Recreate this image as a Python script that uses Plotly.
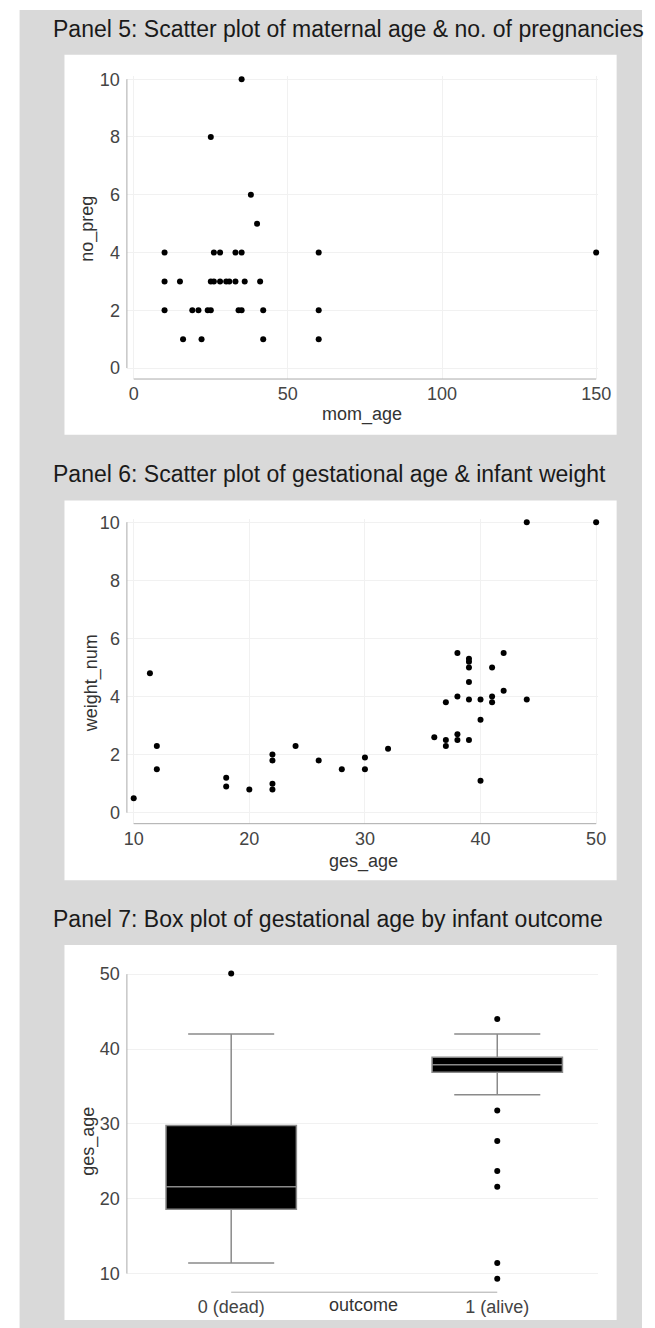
import plotly.graph_objects as go

W, H = 655, 1328

# ---------------- data ----------------
# Panel 5
mom_age = [35, 25, 38, 40,
           10, 26, 28, 33, 35, 60, 150,
           10, 15, 25, 26, 28, 30, 31, 33, 36, 41,
           10, 19, 21, 24, 25, 34, 35, 42, 60,
           16, 22, 42, 60]
no_preg = [10, 8, 6, 5,
           4, 4, 4, 4, 4, 4, 4,
           3, 3, 3, 3, 3, 3, 3, 3, 3, 3,
           2, 2, 2, 2, 2, 2, 2, 2, 2,
           1, 1, 1, 1]
p5_xticks = [0, 50, 100, 150]
p5_yticks = [0, 2, 4, 6, 8, 10]

# Panel 6
ges_age = [10, 11.4, 12, 12, 18, 18, 20, 22, 22, 22, 22, 24, 26, 28, 30, 30, 32, 36,
           37, 37, 37, 38, 38, 38, 38, 39, 39, 39, 39, 39, 39, 40, 40, 40,
           41, 41, 41, 42, 42, 44, 44, 50]
weight_num = [0.5, 4.8, 2.3, 1.5, 1.2, 0.9, 0.8, 2.0, 1.8, 1.0, 0.8, 2.3, 1.8, 1.5, 1.9, 1.5, 2.2, 2.6,
              3.8, 2.5, 2.3, 5.5, 4.0, 2.7, 2.5, 5.3, 5.2, 5.0, 4.5, 3.9, 2.5, 3.9, 3.2, 1.1,
              5.0, 4.0, 3.8, 5.5, 4.2, 10, 3.9, 10]
p6_xticks = [10, 20, 30, 40, 50]
p6_yticks = [0, 2, 4, 6, 8, 10]

# Panel 7
outcome_labels = ["0 (dead)", "1 (alive)"]
box_lower = [11.4, 33.9]
box_q1 = [18.6, 36.9]
box_median = [21.6, 37.9]
box_q3 = [29.8, 38.9]
box_upper = [42.0, 42.0]
outliers_dead = [50.1]
outliers_alive = [44.0, 31.8, 27.7, 23.7, 21.6, 11.4, 9.3]
p7_yticks = [10, 20, 30, 40, 50]

# ---------------- helpers ----------------
def px_x(p):
    return p / W

def px_y(p):
    return 1 - p / H

FONT = "Liberation Sans, Arial, sans-serif"
TICK_FONT = dict(family=FONT, size=18, color="#444444")
TITLE_FONT = dict(family=FONT, size=23, color="#1a1a1a")
AX_FONT = dict(family=FONT, size=18, color="#333333")
GRID = "#f1f1f1"
AXLINE = "#aaaaaa"
GRAY_BG = "#d9d9d9"

fig = go.Figure()

mk = dict(color="black", size=6)
fig.add_trace(go.Scatter(x=mom_age, y=no_preg, mode="markers", marker=mk,
                         xaxis="x", yaxis="y", showlegend=False, cliponaxis=False))
fig.add_trace(go.Scatter(x=ges_age, y=weight_num, mode="markers", marker=mk,
                         xaxis="x2", yaxis="y2", showlegend=False, cliponaxis=False))

pos = list(range(len(outcome_labels)))
fig.add_trace(go.Box(x=pos, q1=box_q1, median=box_median, q3=box_q3,
                     lowerfence=box_lower, upperfence=box_upper,
                     fillcolor="black", line=dict(color="#8a8a8a", width=1.5),
                     width=0.49, whiskerwidth=0.66, boxpoints=False,
                     xaxis="x3", yaxis="y3", showlegend=False))
fig.add_trace(go.Scatter(x=[pos[0]] * len(outliers_dead) + [pos[1]] * len(outliers_alive),
                         y=outliers_dead + outliers_alive, mode="markers", marker=mk,
                         xaxis="x3", yaxis="y3", showlegend=False, cliponaxis=False))

common_x = dict(showline=False, zeroline=False, showgrid=True, gridcolor=GRID,
                ticks="", tickfont=TICK_FONT, ticklabelstandoff=2)
common_y = dict(showline=False, zeroline=False, showgrid=True, gridcolor=GRID,
                ticks="", tickfont=TICK_FONT, ticklabelstandoff=6)

xdom = [px_x(127), px_x(610)]
fig.update_layout(
    width=W, height=H, margin=dict(l=0, r=0, t=0, b=0),
    paper_bgcolor="white", plot_bgcolor="white",
    xaxis=dict(domain=xdom, range=[-2.215, 150.63], tickvals=p5_xticks, anchor="y", **common_x),
    yaxis=dict(domain=[px_y(374), px_y(69.7)], range=[-0.379, 10.1], tickvals=p5_yticks, anchor="x", **common_y),
    xaxis2=dict(domain=xdom, range=[9.41, 50.17], tickvals=p6_xticks, anchor="y2", **common_x),
    yaxis2=dict(domain=[px_y(821), px_y(515)], range=[-0.377, 10.1], tickvals=p6_yticks, anchor="x2", **common_y),
    xaxis3=dict(domain=xdom, range=[-0.392, 1.379], tickvals=pos, ticktext=outcome_labels,
                anchor="y3", **dict(common_x, showgrid=False)),
    yaxis3=dict(domain=[px_y(1292), px_y(965)], range=[7.515, 50.97], tickvals=p7_yticks, anchor="x3", **common_y),
)

shapes = [
    dict(type="rect", xref="paper", yref="paper", x0=px_x(17), x1=1, y0=0, y1=px_y(3),
         fillcolor=GRAY_BG, line=dict(width=0), layer="below"),
]
for top, bot in [(48, 430), (496, 878), (943, 1320)]:
    shapes.append(dict(type="rect", xref="paper", yref="paper", x0=px_x(63), x1=px_x(629),
                       y0=px_y(bot), y1=px_y(top), fillcolor="white", line=dict(width=0), layer="below"))

# detached axis lines spanning the tick range
for xa, ya, xt, yt in [("x", "y", p5_xticks, p5_yticks), ("x2", "y2", p6_xticks, p6_yticks)]:
    shapes.append(dict(type="line", xref=xa, yref=ya + " domain", x0=min(xt), x1=max(xt), y0=0, y1=0,
                       line=dict(color=AXLINE, width=1)))
    shapes.append(dict(type="line", xref=xa + " domain", yref=ya, x0=0, x1=0, y0=min(yt), y1=max(yt),
                       line=dict(color=AXLINE, width=1)))
shapes.append(dict(type="line", xref="x3", yref="y3 domain", x0=min(pos), x1=max(pos), y0=0, y1=0,
                   line=dict(color=AXLINE, width=1)))
shapes.append(dict(type="line", xref="x3 domain", yref="y3", x0=0, x1=0, y0=min(p7_yticks), y1=max(p7_yticks),
                   line=dict(color=AXLINE, width=1)))
fig.update_layout(shapes=shapes)

annotations = []
def ann(text, xp, yp, font, xanchor="center", angle=0):
    annotations.append(dict(text=text, x=px_x(xp), y=px_y(yp), xref="paper", yref="paper",
                            showarrow=False, xanchor=xanchor, yanchor="middle", font=font, textangle=angle))

ann("Panel 5: Scatter plot of maternal age &amp; no. of pregnancies", 49, 22, TITLE_FONT, xanchor="left")
ann("Panel 6: Scatter plot of gestational age &amp; infant weight", 49, 469, TITLE_FONT, xanchor="left")
ann("Panel 7: Box plot of gestational age by infant outcome", 49, 917, TITLE_FONT, xanchor="left")
ann("no_preg", 87, 223, AX_FONT, angle=-90)
ann("mom_age", 368, 410, AX_FONT)
ann("weight_num", 91, 680, AX_FONT, angle=-90)
ann("ges_age", 370, 859, AX_FONT)
ann("ges_age", 88, 1140, AX_FONT, angle=-90)
ann("outcome", 370, 1305, AX_FONT)
fig.update_layout(annotations=annotations)

fig.write_html("out.html", config={"displayModeBar": False},
               post_script="document.body.style.margin='0';document.body.style.overflow='hidden';")
